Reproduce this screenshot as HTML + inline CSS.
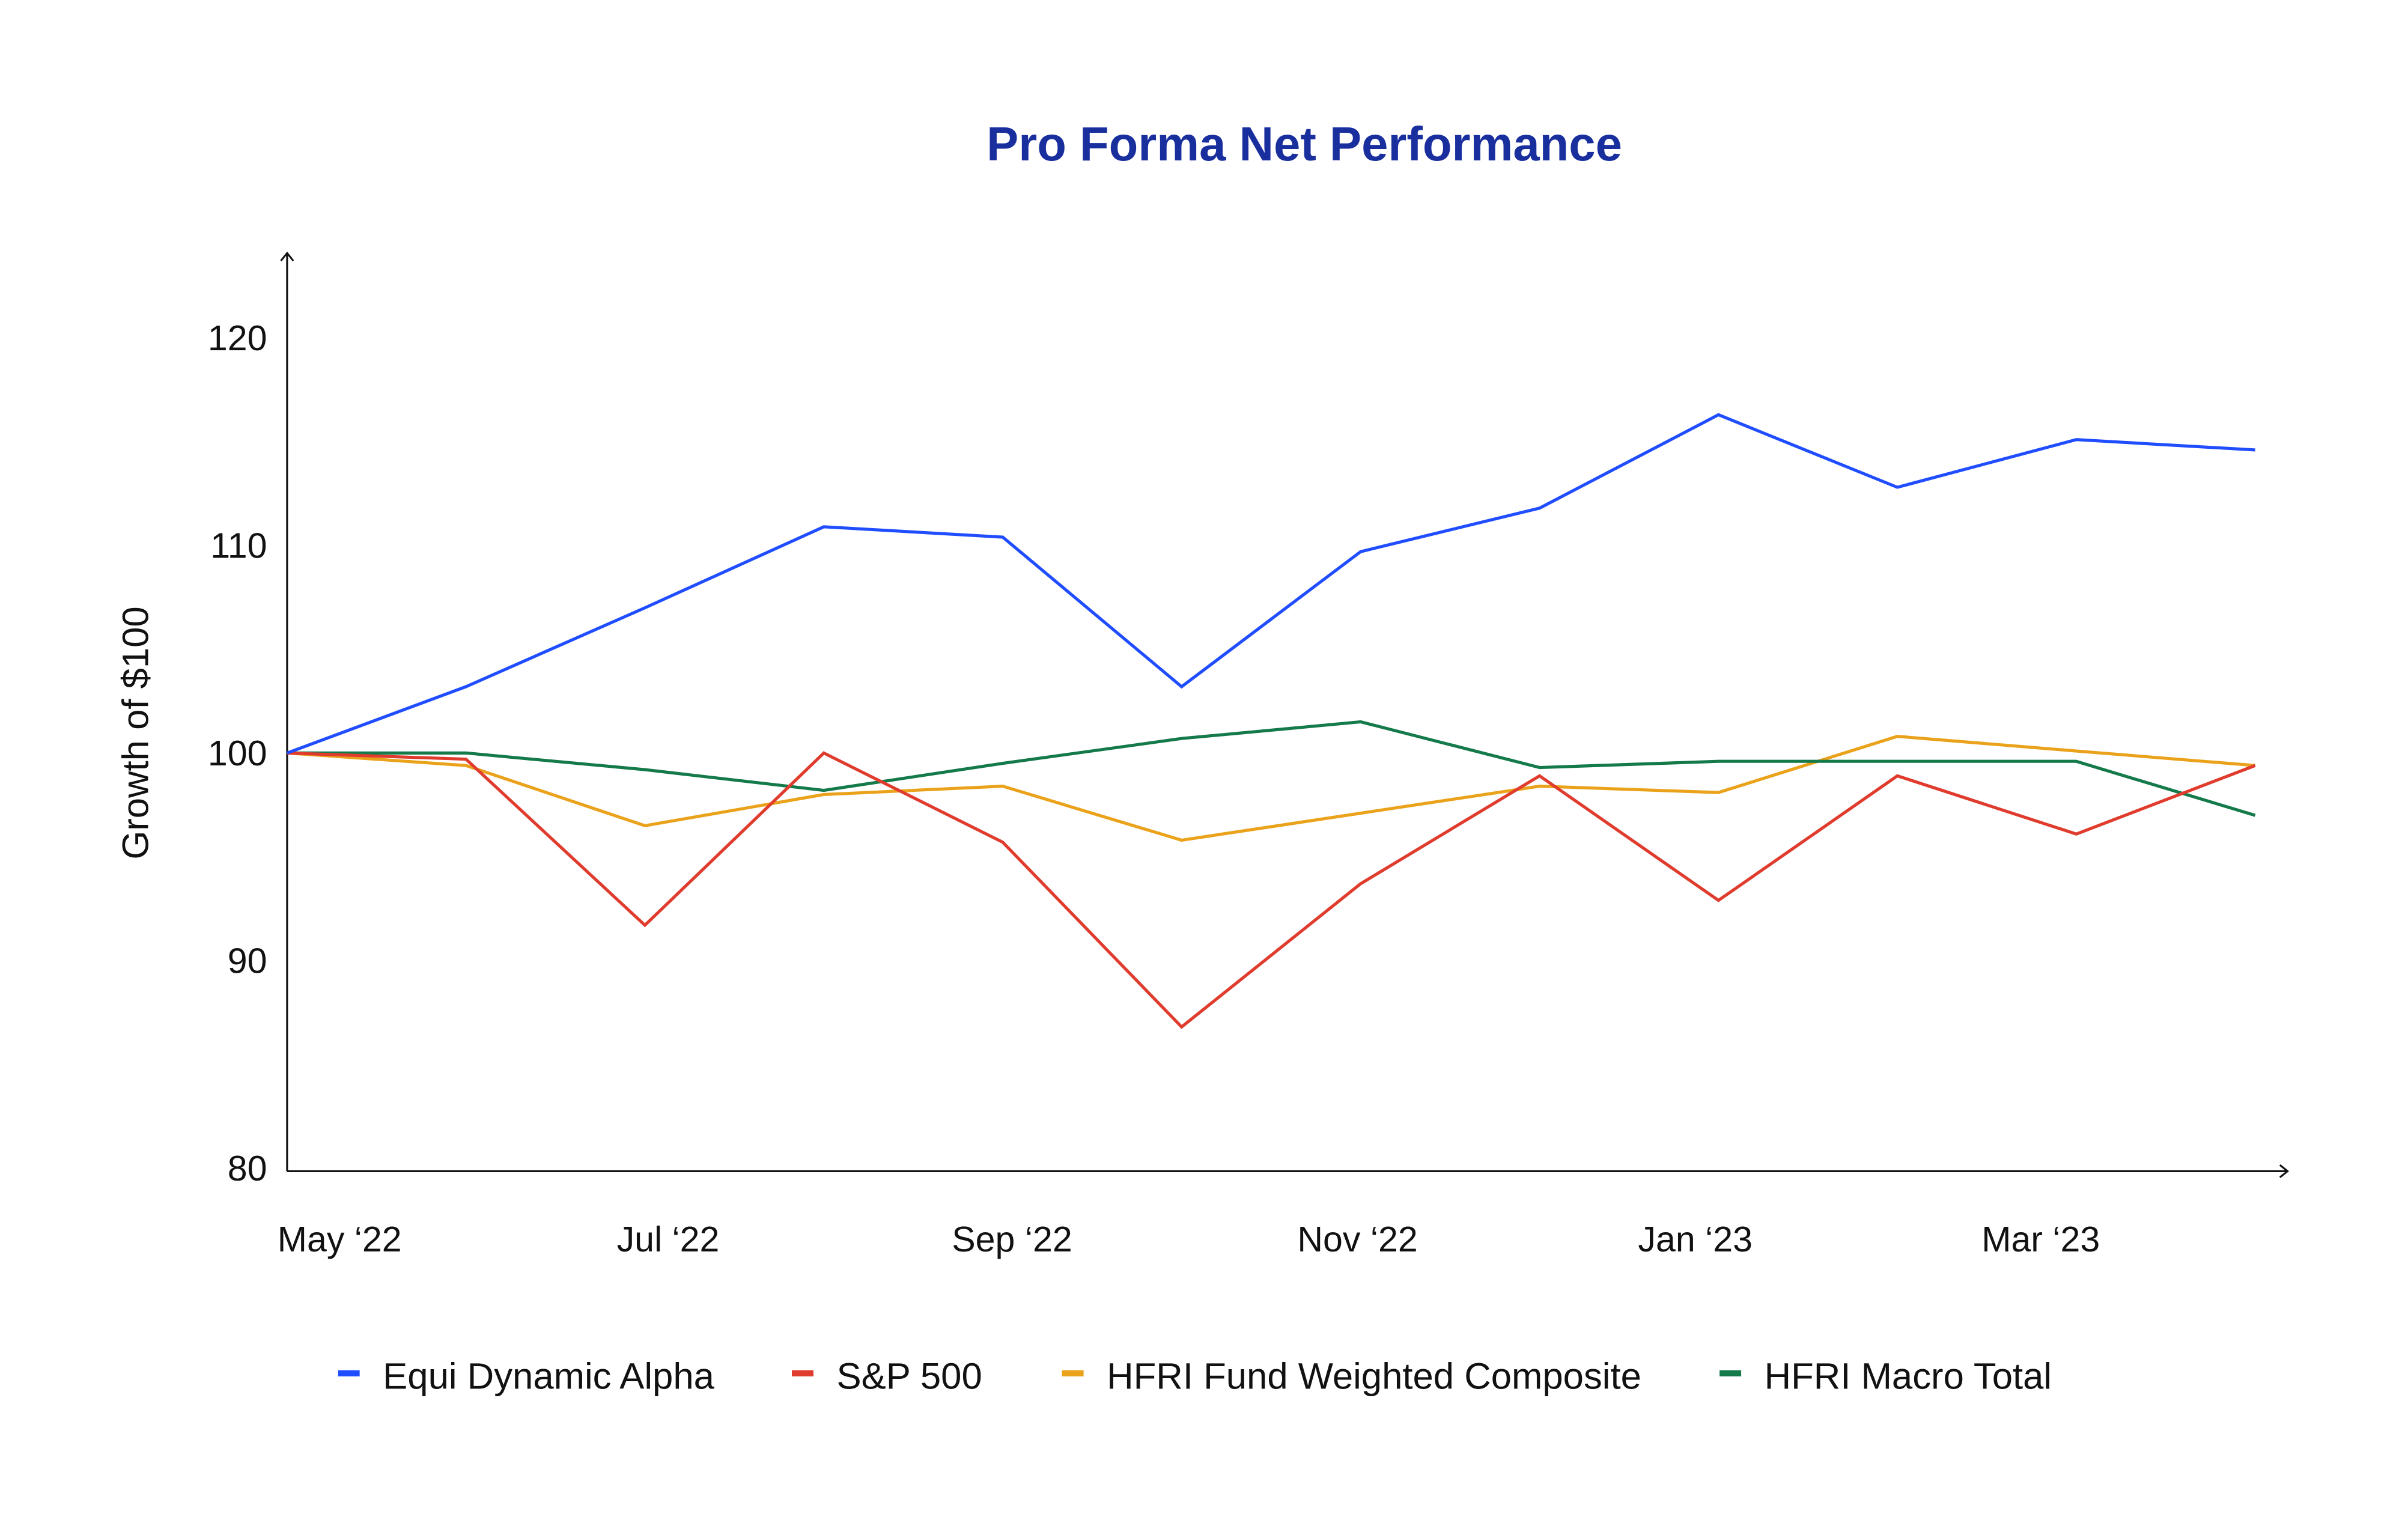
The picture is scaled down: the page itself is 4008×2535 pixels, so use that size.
<!DOCTYPE html>
<html><head><meta charset="utf-8"><style>
html,body{margin:0;padding:0;background:#fff;}
svg{display:block;font-family:"Liberation Sans",sans-serif;}
</style></head><body>
<svg id="chart" width="4008" height="2535" viewBox="0 0 1560 987" preserveAspectRatio="none">
<text x="845" y="104" text-anchor="middle" font-size="31" font-weight="bold" fill="#1a2f9e">Pro Forma Net Performance</text>
<text transform="translate(96,475) rotate(-90)" text-anchor="middle" font-size="24" fill="#111">Growth of $100</text>
<g id="axes">
<line x1="186" y1="759" x2="186" y2="164" stroke="#111" stroke-width="1.2"/>
<path d="M182,169 L186,164 L190,169" fill="none" stroke="#111" stroke-width="1.2"/>
<line x1="186" y1="759" x2="1482" y2="759" stroke="#111" stroke-width="1.2"/>
<path d="M1477,755 L1482,759 L1477,763" fill="none" stroke="#111" stroke-width="1.2"/>
</g>
<g id="yticks"></g><g id="xticks"></g><g id="series"></g>
<g id="legend"></g>
</svg>
<script>
const months=["May","Jun","Jul","Aug","Sep","Oct","Nov","Dec","Jan","Feb","Mar","Apr"];
const yTicks=[80,90,100,110,120];
const xLabels=["May ‘22","Jul ‘22","Sep ‘22","Nov ‘22","Jan ‘23","Mar ‘23"];
const xLabelIdx=[0,2,4,6,8,10];
const equi=[100,103.2,107.0,110.9,110.4,103.2,109.7,111.8,116.3,112.8,115.1,114.6];
const sp500=[100,99.7,91.7,100,95.7,86.8,93.7,98.9,92.9,98.9,96.1,99.4];
const hfriFwc=[100,99.4,96.5,98.0,98.4,95.8,97.1,98.4,98.1,100.8,100.1,99.4];
const hfriMacro=[100,100,99.2,98.2,99.5,100.7,101.5,99.3,99.6,99.6,99.6,97.0];
const seriesNames=["Equi Dynamic Alpha","S&P 500","HFRI Fund Weighted Composite","HFRI Macro Total"];
const seriesColors=["#1f4dff","#e03c2e","#eba21b","#147a4a"];
const NS="http://www.w3.org/2000/svg";
const x=i=>186+i*(1461-186)/11;
const y=v=>488-(v-100)*13.45;
function mk(t,a,p){const e=document.createElementNS(NS,t);for(const k in a)e.setAttribute(k,a[k]);p.appendChild(e);return e;}
const yt=document.getElementById('yticks');
yTicks.forEach(v=>{const t=mk('text',{x:173,y:y(v)+8,'text-anchor':'end','font-size':23,fill:'#111'},yt);t.textContent=v;

});
const xt=document.getElementById('xticks');
const xOff=[34,15,6,-2,-15,-23];
xLabels.forEach((l,j)=>{const t=mk('text',{x:x(xLabelIdx[j])+xOff[j],y:811,'text-anchor':'middle','font-size':23,fill:'#111'},xt);t.textContent=l;

});
const sg=document.getElementById('series');
const data=[equi,sp500,hfriFwc,hfriMacro];
const order=[2,3,1,0];
order.forEach(s=>{const d=data[s].map((v,i)=>(i?'L':'M')+x(i).toFixed(1)+','+y(v).toFixed(1)).join(' ');
const p=mk('path',{d:d,fill:'none',stroke:seriesColors[s],'stroke-width':2,'stroke-linejoin':'miter'},sg);

});
const lg=document.getElementById('legend');
const lx=[219,513,688,1114];
seriesNames.forEach((n,i)=>{const r=mk('rect',{x:lx[i],y:888,width:14,height:4,fill:seriesColors[i]},lg);


const t=mk('text',{x:lx[i]+29,y:900,'font-size':24,fill:'#111'},lg);t.textContent=n;

});
</script>
</body></html>
